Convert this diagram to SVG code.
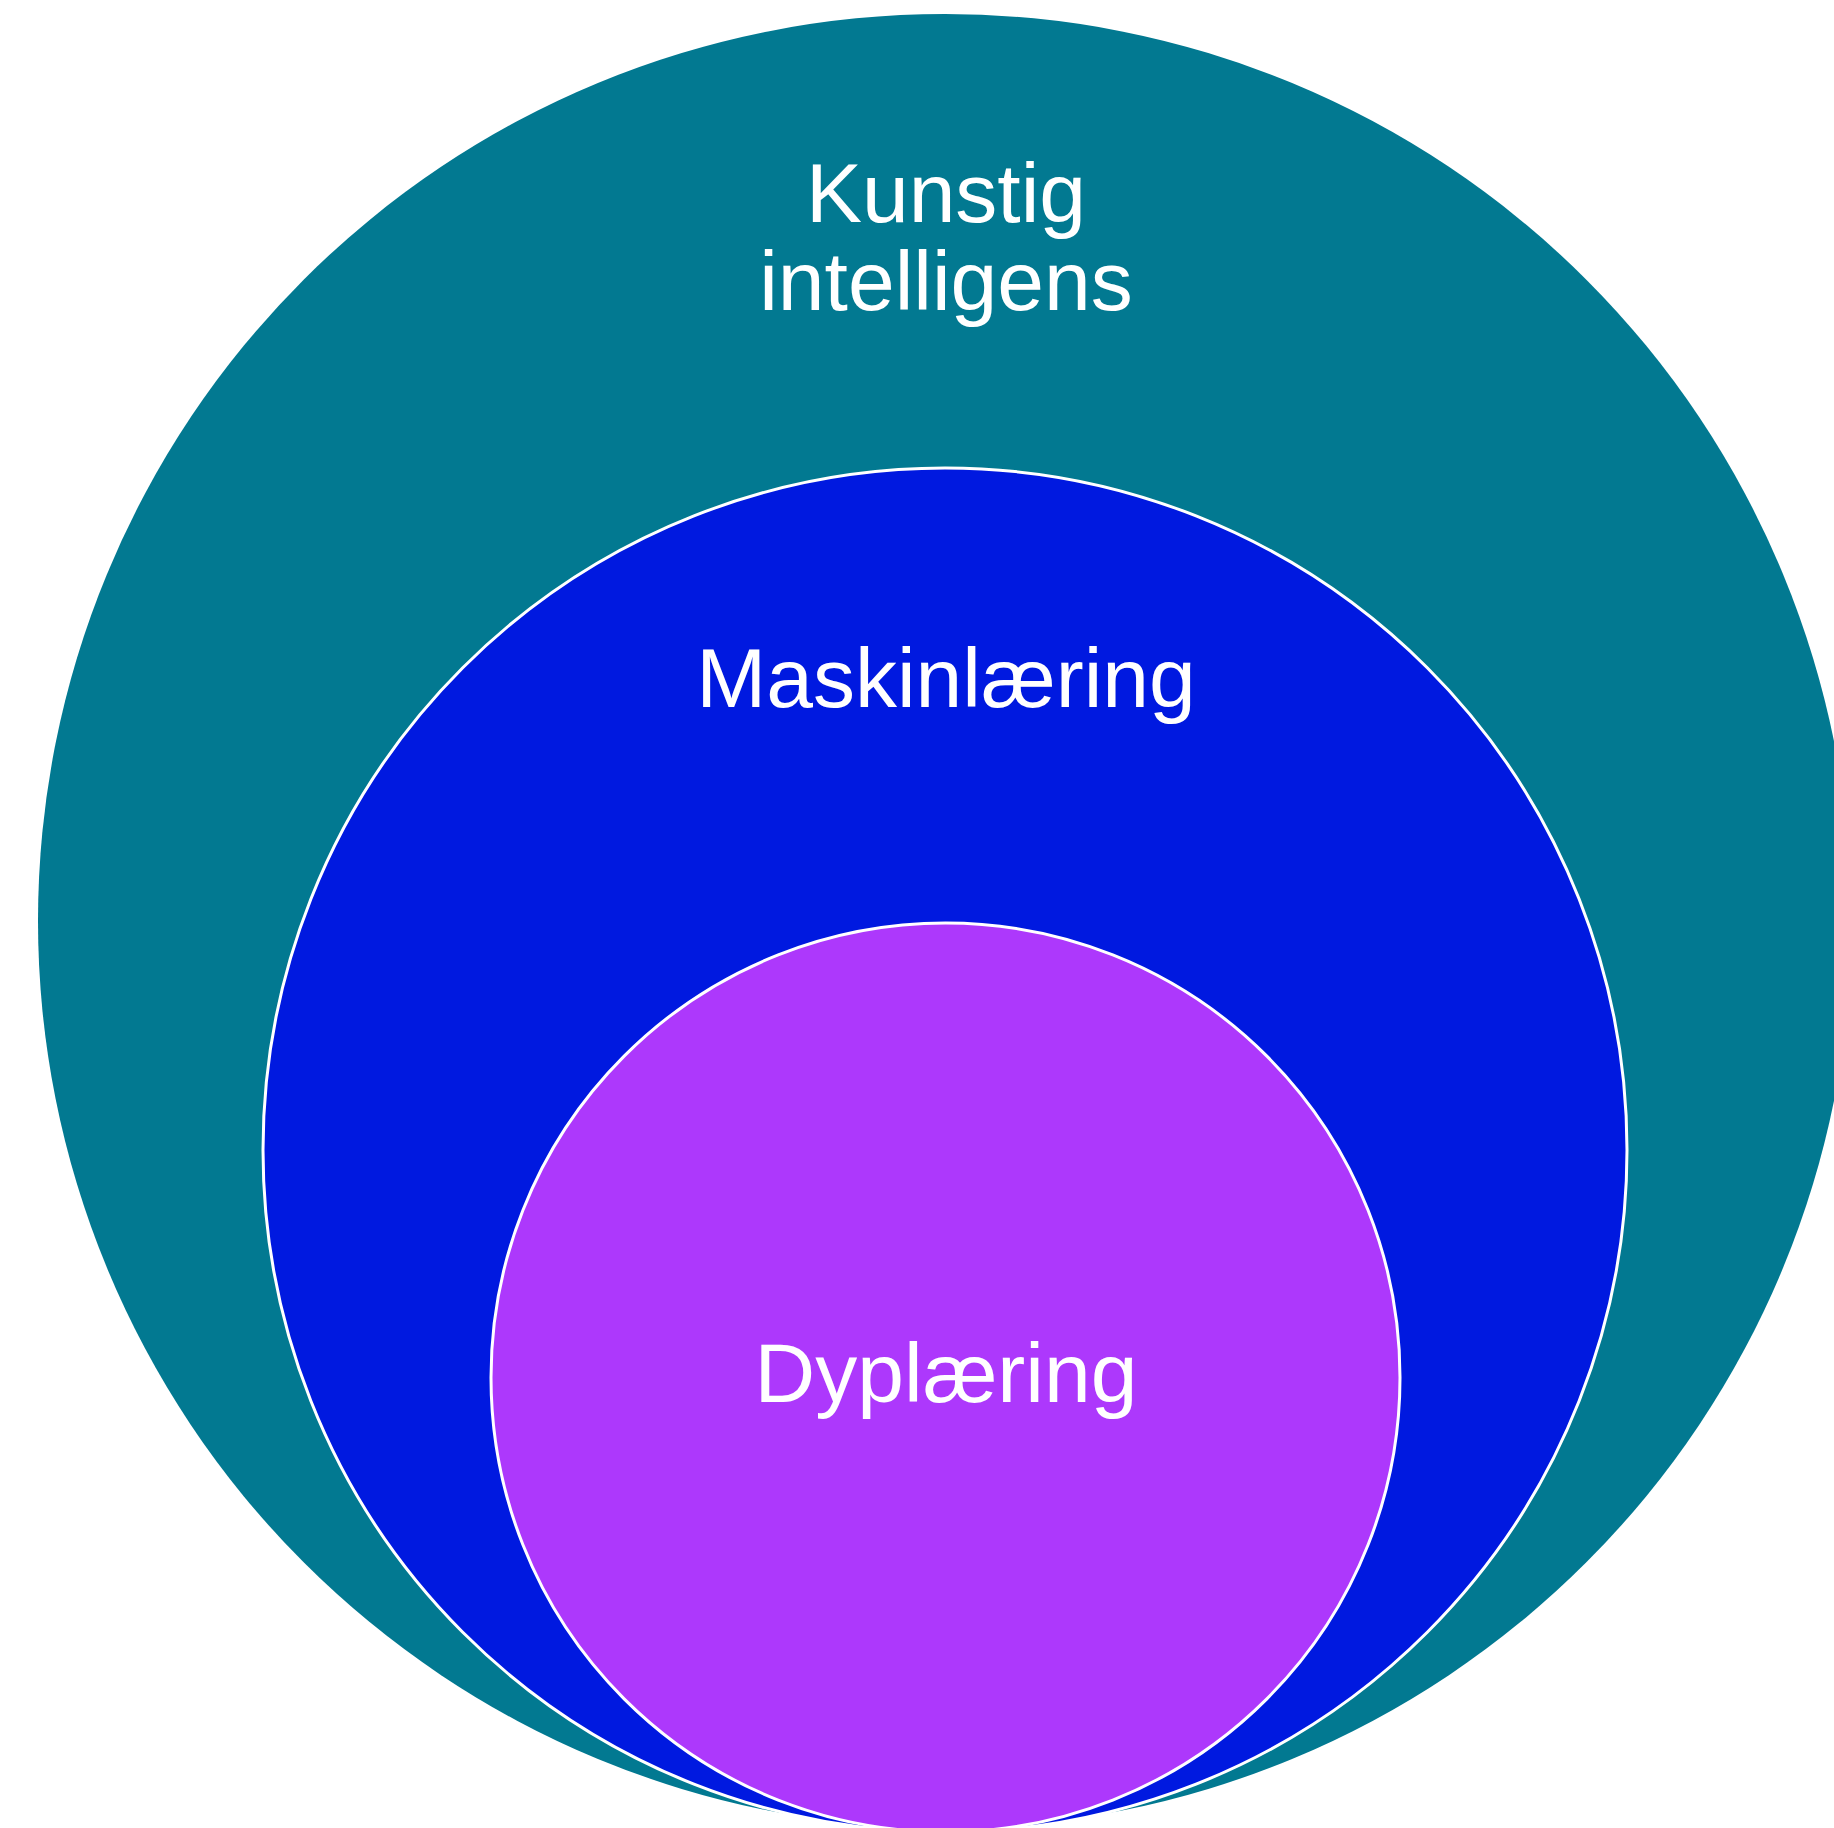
<svg xmlns="http://www.w3.org/2000/svg" width="1834" height="1828" viewBox="0 0 1834 1828">
<style>
.lbl{font-family:"Liberation Sans",Arial,sans-serif;font-size:84px;fill:#ffffff;text-anchor:middle}
.ring{stroke:#ffffff;stroke-width:3}
</style>
<rect width="1834" height="1828" fill="#ffffff"/>
<g id="node-ai">
<circle cx="945" cy="921" r="907" fill="#027991"/>
<text class="lbl" x="946" y="222">Kunstig</text>
<text class="lbl" x="946" y="310">intelligens</text>
</g>
<g id="node-ml">
<circle class="ring" cx="945" cy="1150" r="682" fill="#0019E0"/>
<text class="lbl" x="946" y="707">Maskinlæring</text>
</g>
<g id="node-dl">
<circle class="ring" cx="945.5" cy="1377.5" r="454.5" fill="#AD38FC"/>
<text class="lbl" x="946" y="1402">Dyplæring</text>
</g>
<g id="connectors"></g>
</svg>
